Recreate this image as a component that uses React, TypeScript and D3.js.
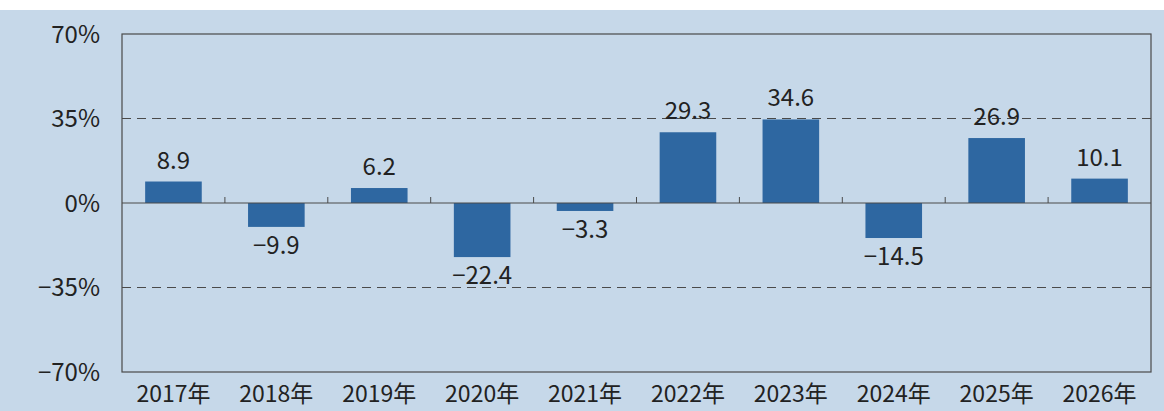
import React, { useEffect, useRef } from 'react';
import * as d3 from 'd3';

const years = ['2017年', '2018年', '2019年', '2020年', '2021年', '2022年', '2023年', '2024年', '2025年', '2026年'];
const growth = [8.9, -9.9, 6.2, -22.4, -3.3, 29.3, 34.6, -14.5, 26.9, 10.1];
const yTicks = [70, 35, 0, -35, -70];
const dashedTicks = [35, -35];

const FONT = '"Noto Sans CJK JP", "Noto Sans", sans-serif';

const App: React.FC = () => {
  const svgRef = useRef<SVGSVGElement>(null);

  useEffect(() => {
    document.body.style.margin = '0';
    if (!svgRef.current) return;

    const svg = d3.select(svgRef.current);
    svg.selectAll('*').remove();

    const W = 1164;
    const H = 411;
    const margin = { top: 34, right: 13, bottom: 39, left: 122 };
    const width = W - margin.left - margin.right;
    const height = H - margin.top - margin.bottom;

    // background
    svg.append('rect').attr('width', W).attr('height', H).attr('fill', '#ffffff');
    svg.append('rect').attr('y', 10).attr('width', W).attr('height', H - 10).attr('fill', '#c6d8e9');

    const g = svg.append('g').attr('transform', `translate(${margin.left},${margin.top})`);

    const x = d3.scaleBand<string>().domain(years).range([0, width]).paddingInner(0.45).paddingOuter(0.225);
    const xb = d3.scaleBand<string>().domain(years).range([0, width]);
    const y = d3.scaleLinear().domain([-70, 70]).range([height, 0]);

    // dashed gridlines
    g.selectAll('line.grid')
      .data(dashedTicks)
      .enter()
      .append('line')
      .attr('class', 'grid')
      .attr('x1', 0)
      .attr('x2', width)
      .attr('y1', d => y(d))
      .attr('y2', d => y(d))
      .attr('stroke', '#4a4a4a')
      .attr('stroke-width', 1.1)
      .attr('stroke-dasharray', '9,6');

    // bars
    g.selectAll('rect.bar')
      .data(growth)
      .enter()
      .append('rect')
      .attr('class', 'bar')
      .attr('x', (d, i) => x(years[i]) || 0)
      .attr('width', x.bandwidth())
      .attr('y', d => y(Math.max(0, d)))
      .attr('height', d => Math.abs(y(d) - y(0)))
      .attr('fill', '#2e67a1');

    // zero line with category ticks
    g.append('line')
      .attr('x1', 0)
      .attr('x2', width)
      .attr('y1', y(0))
      .attr('y2', y(0))
      .attr('stroke', '#4a4a4a')
      .attr('stroke-width', 1.2);

    g.selectAll('line.tick')
      .data(years.slice(1))
      .enter()
      .append('line')
      .attr('class', 'tick')
      .attr('x1', d => xb(d) || 0)
      .attr('x2', d => xb(d) || 0)
      .attr('y1', y(0))
      .attr('y2', y(0) - 6)
      .attr('stroke', '#4a4a4a')
      .attr('stroke-width', 1);

    // frame
    g.append('rect')
      .attr('width', width)
      .attr('height', height)
      .attr('fill', 'none')
      .attr('stroke', '#4a4a4a')
      .attr('stroke-width', 1.2);

    // y labels
    g.selectAll('text.ylab')
      .data(yTicks)
      .enter()
      .append('text')
      .attr('class', 'ylab')
      .attr('x', -22)
      .attr('y', d => y(d))
      .attr('dy', '0.36em')
      .attr('text-anchor', 'end')
      .attr('font-family', FONT)
      .attr('font-size', 24)
      .attr('fill', '#222')
      .text(d => (d < 0 ? '\u2212' + Math.abs(d) : String(d)) + '%');

    // x labels
    g.selectAll('text.xlab')
      .data(years)
      .enter()
      .append('text')
      .attr('class', 'xlab')
      .attr('x', d => (xb(d) || 0) + xb.bandwidth() / 2)
      .attr('y', height + 30)
      .attr('text-anchor', 'middle')
      .attr('font-family', FONT)
      .attr('font-size', 23)
      .attr('fill', '#222')
      .text(d => d);

    // value labels
    g.selectAll('text.val')
      .data(growth)
      .enter()
      .append('text')
      .attr('class', 'val')
      .attr('x', (d, i) => (x(years[i]) || 0) + x.bandwidth() / 2)
      .attr('y', d => (d >= 0 ? y(d) - 13 : y(d) + 27))
      .attr('text-anchor', 'middle')
      .attr('font-family', FONT)
      .attr('font-size', 24)
      .attr('fill', '#222')
      .text(d => (d < 0 ? '\u2212' + Math.abs(d).toFixed(1) : d.toFixed(1)));
  }, []);

  return <svg ref={svgRef} width={1164} height={411} style={{ display: 'block' }} />;
};

export default App;
